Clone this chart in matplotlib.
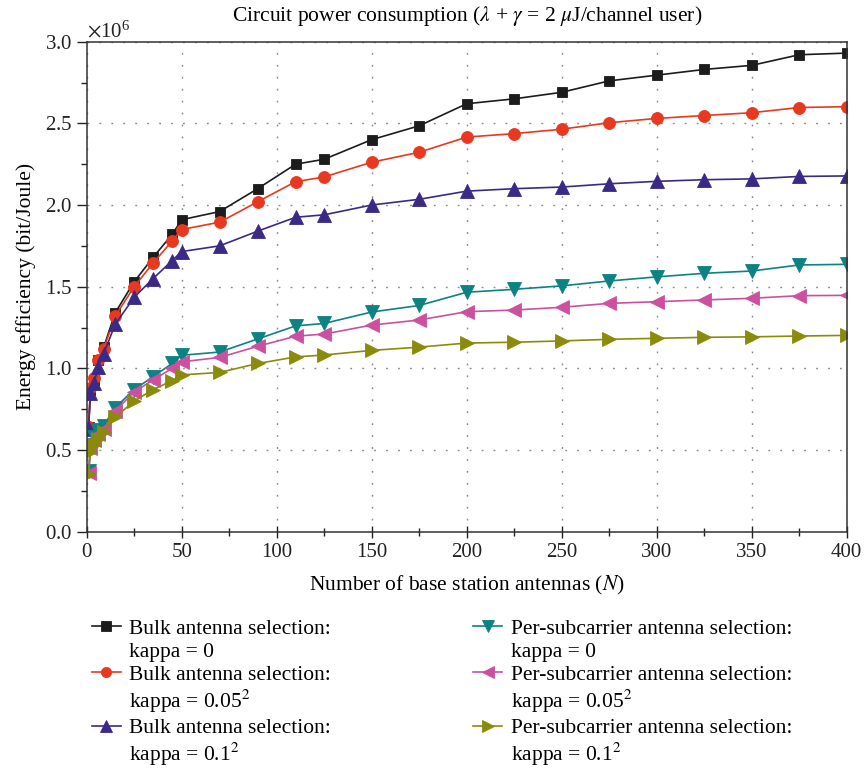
import matplotlib
matplotlib.use('Agg')
import matplotlib.pyplot as plt
from matplotlib.lines import Line2D
from matplotlib.ticker import MultipleLocator, ScalarFormatter
import numpy as np

# number of base station antennas
antennas = [1, 2, 4, 6, 9, 15, 25, 35, 45, 50, 70, 90, 110, 125, 150,
            175, 200, 225, 250, 275, 300, 325, 350, 375, 400]

# energy efficiency, in units of 1e6 bit/Joule
bulk_k0 = [0.64, 0.87, 0.93, 1.05, 1.13, 1.34, 1.53, 1.68, 1.82, 1.91, 1.96, 2.10, 2.25, 2.28, 2.40,
           2.485, 2.62, 2.65, 2.69, 2.76, 2.795, 2.83, 2.855, 2.92, 2.93]
bulk_k005 = [0.64, 0.88, 0.94, 1.05, 1.12, 1.32, 1.50, 1.645, 1.78, 1.85, 1.895, 2.02, 2.143, 2.172, 2.262,
             2.323, 2.416, 2.437, 2.464, 2.504, 2.53, 2.548, 2.565, 2.597, 2.602]
bulk_k01 = [0.63, 0.85, 0.91, 1.01, 1.09, 1.27, 1.435, 1.55, 1.66, 1.715, 1.75, 1.84, 1.925, 1.94, 2.0,
            2.035, 2.085, 2.10, 2.11, 2.13, 2.145, 2.155, 2.16, 2.175, 2.178]
persub_k0 = [0.37, 0.53, 0.58, 0.62, 0.65, 0.76, 0.87, 0.95, 1.03, 1.08, 1.10, 1.18, 1.26, 1.275, 1.345,
             1.385, 1.466, 1.484, 1.505, 1.535, 1.56, 1.582, 1.596, 1.633, 1.637]
persub_k005 = [0.36, 0.51, 0.56, 0.60, 0.63, 0.74, 0.855, 0.93, 1.00, 1.04, 1.067, 1.135, 1.197, 1.21, 1.265,
               1.296, 1.347, 1.357, 1.374, 1.398, 1.408, 1.419, 1.429, 1.445, 1.447]
persub_k01 = [0.355, 0.49, 0.53, 0.57, 0.61, 0.70, 0.80, 0.87, 0.925, 0.96, 0.975, 1.03, 1.07, 1.082, 1.11,
              1.13, 1.155, 1.16, 1.168, 1.178, 1.184, 1.19, 1.193, 1.198, 1.202]

methods = ['Bulk antenna selection:'] * 3 + ['Per-subcarrier antenna selection:'] * 3
kappas = ['kappa = 0', 'kappa = 0.05$^2$', 'kappa = 0.1$^2$'] * 2

plt.rcParams['font.family'] = 'Liberation Serif'
plt.rcParams['mathtext.fontset'] = 'stix'
plt.rcParams['font.size'] = 15

fig = plt.figure(figsize=(8.64, 7.76), dpi=100)
ax = fig.add_axes([0.1003, 0.3148, 0.8797, 0.6315])

series = [
    (bulk_k0, '#1c1c1c', 's', 7.8),
    (bulk_k005, '#e8381f', 'o', 8.6),
    (bulk_k01, '#3b2987', '^', 9.5),
    (persub_k0, '#0c8282', 'v', 9.5),
    (persub_k005, '#cc509f', '<', 9.5),
    (persub_k01, '#8a8b0b', '>', 9.5),
]
x = np.array(antennas)
lines = []
for vals, color, marker, ms in series:
    ln, = ax.plot(x, np.array(vals) * 1e6, color=color, marker=marker, markersize=ms,
                  linewidth=1.2, markeredgecolor=color, markeredgewidth=0.6)
    lines.append(ln)

ax.set_xlim(0, 400)
ax.set_ylim(0, 3.0e6)
ax.xaxis.set_major_locator(MultipleLocator(50))
ax.xaxis.set_minor_locator(MultipleLocator(25))
ax.yaxis.set_major_locator(MultipleLocator(0.5e6))
ax.yaxis.set_minor_locator(MultipleLocator(0.25e6))
fmt = ScalarFormatter(useMathText=True)
fmt.set_powerlimits((6, 6))
ax.yaxis.set_major_formatter(fmt)
ax.yaxis.get_offset_text().set_fontsize(15)

ax.grid(True, which='major', color='#888888', linewidth=1.0, linestyle=(0, (1.3, 7.3)))
ax.tick_params(axis='x', which='major', direction='inout', length=9, width=1, labelsize=15, colors='#222222')
ax.tick_params(axis='x', which='minor', direction='inout', length=6, width=1, colors='#222222')
ax.tick_params(axis='y', which='major', direction='out', length=7, width=1, labelsize=15, colors='#222222')
ax.tick_params(axis='y', which='minor', direction='out', length=4, width=1, colors='#222222')
for sp in ax.spines.values():
    sp.set_color('#333333')
    sp.set_linewidth(1.1)

ax.set_title(r'Circuit power consumption ($\lambda$ + $\gamma$ = 2 $\mu$J/channel user)',
             fontsize=15.5, pad=15)
ax.set_xlabel(r'Number of base station antennas ($N$)', fontsize=15.5, labelpad=9)
ax.set_ylabel('Energy efficiency (bit/Joule)', fontsize=15.5, labelpad=6)

# legend: method line next to the marker, kappa line below without a marker
blank = Line2D([], [], linestyle='none')
handles, texts = [], []
for col in range(2):
    for i in range(3 * col, 3 * col + 3):
        handles += [lines[i], blank]
        texts += [methods[i], kappas[i]]
fig.legend(handles, texts, loc='upper left', bbox_to_anchor=(0.096, 0.214), ncol=2, frameon=False,
           fontsize=15.5, handlelength=1.35, columnspacing=6.6, labelspacing=0.14,
           handletextpad=0.4, borderaxespad=0, markerscale=0.85)

fig.savefig('out.png', dpi=100)
